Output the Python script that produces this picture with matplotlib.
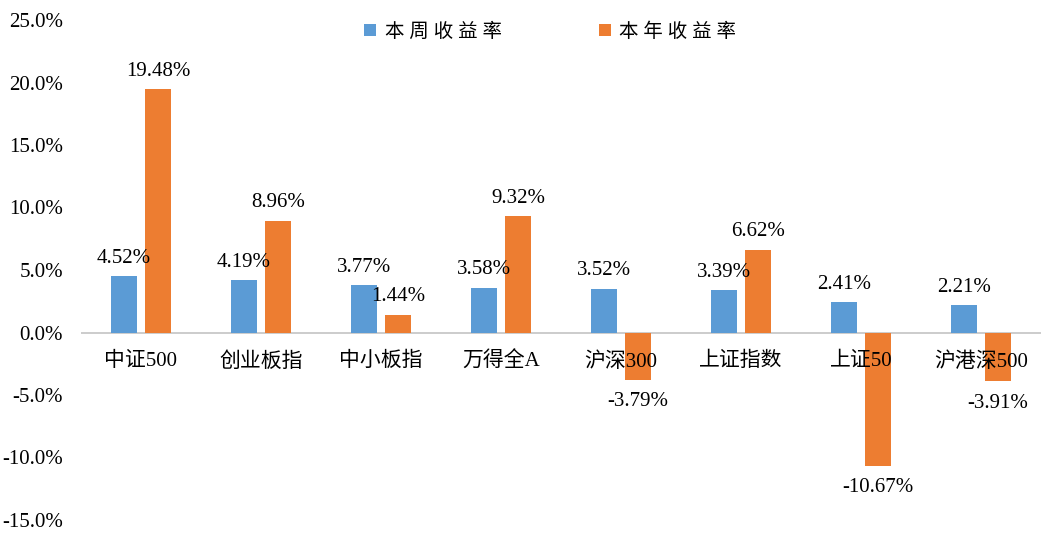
import numpy as np
import matplotlib.pyplot as plt
from matplotlib.ticker import FuncFormatter

plt.rcParams['font.family'] = ['Liberation Serif', 'Noto Sans CJK SC']

# data
categories = ["中证500", "创业板指", "中小板指", "万得全A", "沪深300", "上证指数", "上证50", "沪港深500"]
weekly = [4.52, 4.19, 3.77, 3.58, 3.52, 3.39, 2.41, 2.21]
yearly = [19.48, 8.96, 1.44, 9.32, -3.79, 6.62, -10.67, -3.91]
series_names = ["本 周 收 益 率", "本 年 收 益 率"]
yticks = [-15, -10, -5, 0, 5, 10, 15, 20, 25]

BLUE = "#5B9BD5"
ORANGE = "#ED7D31"
FS = 15

fig = plt.figure(figsize=(10.61, 5.47), dpi=100)
ax = fig.add_axes([81 / 1061, 27 / 547, 960 / 1061, 500 / 547])

x = np.arange(len(categories))
w = 0.222
off = 0.142
ax.bar(x - off, weekly, w, color=BLUE, label=series_names[0], zorder=3)
ax.bar(x + off, yearly, w, color=ORANGE, label=series_names[1], zorder=3)

# data labels
for xi, v in zip(x - off, weekly):
    ax.annotate(f"{v:.2f}%", xy=(xi, v), xytext=(0, 6), textcoords="offset points",
                ha="center", va="bottom", fontsize=FS, color="#000000", zorder=5)
for xi, v in zip(x + off, yearly):
    if v >= 0:
        ax.annotate(f"{v:.2f}%", xy=(xi, v), xytext=(0, 6), textcoords="offset points",
                    ha="center", va="bottom", fontsize=FS, color="#000000", zorder=5)
    else:
        ax.annotate(f"{v:.2f}%", xy=(xi, v), xytext=(0, -9), textcoords="offset points",
                    ha="center", va="top", fontsize=FS, color="#000000", zorder=5)

ax.set_xlim(-0.5, len(categories) - 0.5)
ax.set_ylim(-15, 25)
ax.set_yticks(yticks)
ax.yaxis.set_major_formatter(FuncFormatter(lambda v, p: f"{v:.1f}%"))
ax.axhline(0, color="#C8C8C8", linewidth=1.3, zorder=2)

for s in ax.spines.values():
    s.set_visible(False)
ax.tick_params(axis="y", length=0, labelsize=FS, pad=13)
ax.tick_params(axis="x", length=0)
ax.set_xticks([])

# category labels just below zero line
for xi, c in zip(x, categories):
    ax.annotate(c, xy=(xi, 0), xytext=(0, -14), textcoords="offset points",
                ha="center", va="top", fontsize=FS, zorder=6)

ax.legend(loc="center", bbox_to_anchor=(0.489, 0.977), ncol=2, frameon=False,
          prop={'size': 14}, handlelength=0.6, handleheight=0.6, columnspacing=5.0,
          handletextpad=0.45)

fig.savefig("out.png", dpi=100, facecolor="white")
